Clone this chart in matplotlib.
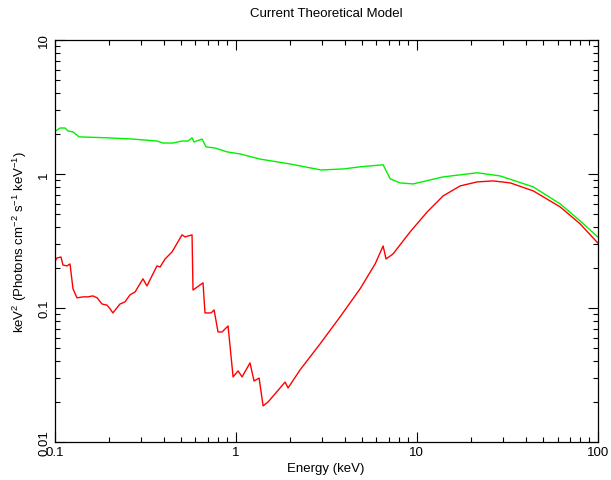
import matplotlib
matplotlib.use('Agg')
import matplotlib.pyplot as plt
import numpy as np

plt.rcParams['font.family'] = ['Liberation Sans', 'DejaVu Sans']
plt.rcParams['mathtext.default'] = 'regular'

# total model (green)
e_green = [0.1, 0.1072, 0.1143, 0.1188, 0.1265, 0.1365, 0.195, 0.271, 0.368, 0.397,
           0.451, 0.506, 0.547, 0.575, 0.590, 0.653, 0.687, 0.771, 0.898, 1.059,
           1.366, 1.977, 2.97, 3.97, 4.87, 6.53, 7.15, 8.11, 9.57, 14.0,
           21.6, 28.9, 44.1, 62.1, 80.0, 100.0]
f_green = [2.06, 2.20, 2.20, 2.09, 2.06, 1.89, 1.86, 1.82, 1.76, 1.70,
           1.70, 1.76, 1.76, 1.86, 1.73, 1.82, 1.59, 1.56, 1.46, 1.41,
           1.29, 1.19, 1.07, 1.09, 1.13, 1.17, 0.918, 0.857, 0.842, 0.950,
           1.02, 0.966, 0.800, 0.597, 0.446, 0.339]

# absorbed component (red)
e_red = [0.1, 0.1032, 0.1086, 0.1114, 0.1173, 0.1218, 0.1265, 0.1331, 0.1437, 0.153,
         0.163, 0.172, 0.183, 0.195, 0.203, 0.210, 0.230, 0.245, 0.261, 0.279,
         0.308, 0.324, 0.368, 0.383, 0.408, 0.446, 0.506, 0.526, 0.575, 0.582,
         0.661, 0.678, 0.732, 0.761, 0.800, 0.842, 0.909, 0.969, 1.033, 1.086,
         1.202, 1.265, 1.349, 1.419, 1.513, 1.877, 1.950, 2.271, 2.928, 3.777,
         4.873, 5.90, 6.53, 6.78, 7.41, 9.20, 11.43, 14.0, 17.4, 21.6,
         26.5, 32.9, 44.1, 62.1, 80.0, 100.0]
f_red = [0.220, 0.236, 0.240, 0.209, 0.206, 0.213, 0.139, 0.119, 0.121, 0.121,
         0.123, 0.119, 0.107, 0.105, 0.0984, 0.0918, 0.107, 0.111, 0.125, 0.132,
         0.165, 0.146, 0.206, 0.202, 0.232, 0.262, 0.351, 0.339, 0.351, 0.136,
         0.154, 0.0918, 0.0918, 0.0967, 0.0662, 0.0662, 0.0734, 0.0306, 0.0339, 0.0306,
         0.0389, 0.0285, 0.0300, 0.0186, 0.0199, 0.0280, 0.0253, 0.0345, 0.0539, 0.0858,
         0.139, 0.213, 0.290, 0.232, 0.253, 0.369, 0.520, 0.685, 0.814, 0.872,
         0.887, 0.857, 0.747, 0.567, 0.424, 0.306]

fig = plt.figure(figsize=(6.11, 4.81), dpi=100)
ax = fig.add_axes([0.0892, 0.079, 0.889, 0.836])

ax.plot(e_green, f_green, color='#00f000', lw=1.0)
ax.plot(e_red, f_red, color='#ff0000', lw=1.0)

ax.set_xscale('log')
ax.set_yscale('log')
ax.set_xlim(0.1, 100)
ax.set_ylim(0.01, 10)

ax.set_xticks([0.1, 1, 10, 100])
ax.set_xticklabels(['0.1', '1', '10', '100'])
ax.set_yticks([0.01, 0.1, 1, 10])
ax.set_yticklabels(['0.01', '0.1', '1', '10'], rotation=90, va='center')

ax.tick_params(which='both', direction='in', top=True, right=True, labelsize=9.5, width=0.8)
ax.tick_params(which='major', length=7, pad=3)
ax.tick_params(which='minor', length=3.5)
for s in ax.spines.values():
    s.set_linewidth(0.9)

ax.set_xlabel('Energy (keV)', fontsize=9.5, labelpad=3)
ax.set_ylabel(r'keV$^2$ (Photons cm$^{-2}$ s$^{-1}$ keV$^{-1}$)', fontsize=9.5, labelpad=7)
ax.set_title('Current Theoretical Model', fontsize=9.5, pad=17)

fig.savefig('out.png', dpi=100)
